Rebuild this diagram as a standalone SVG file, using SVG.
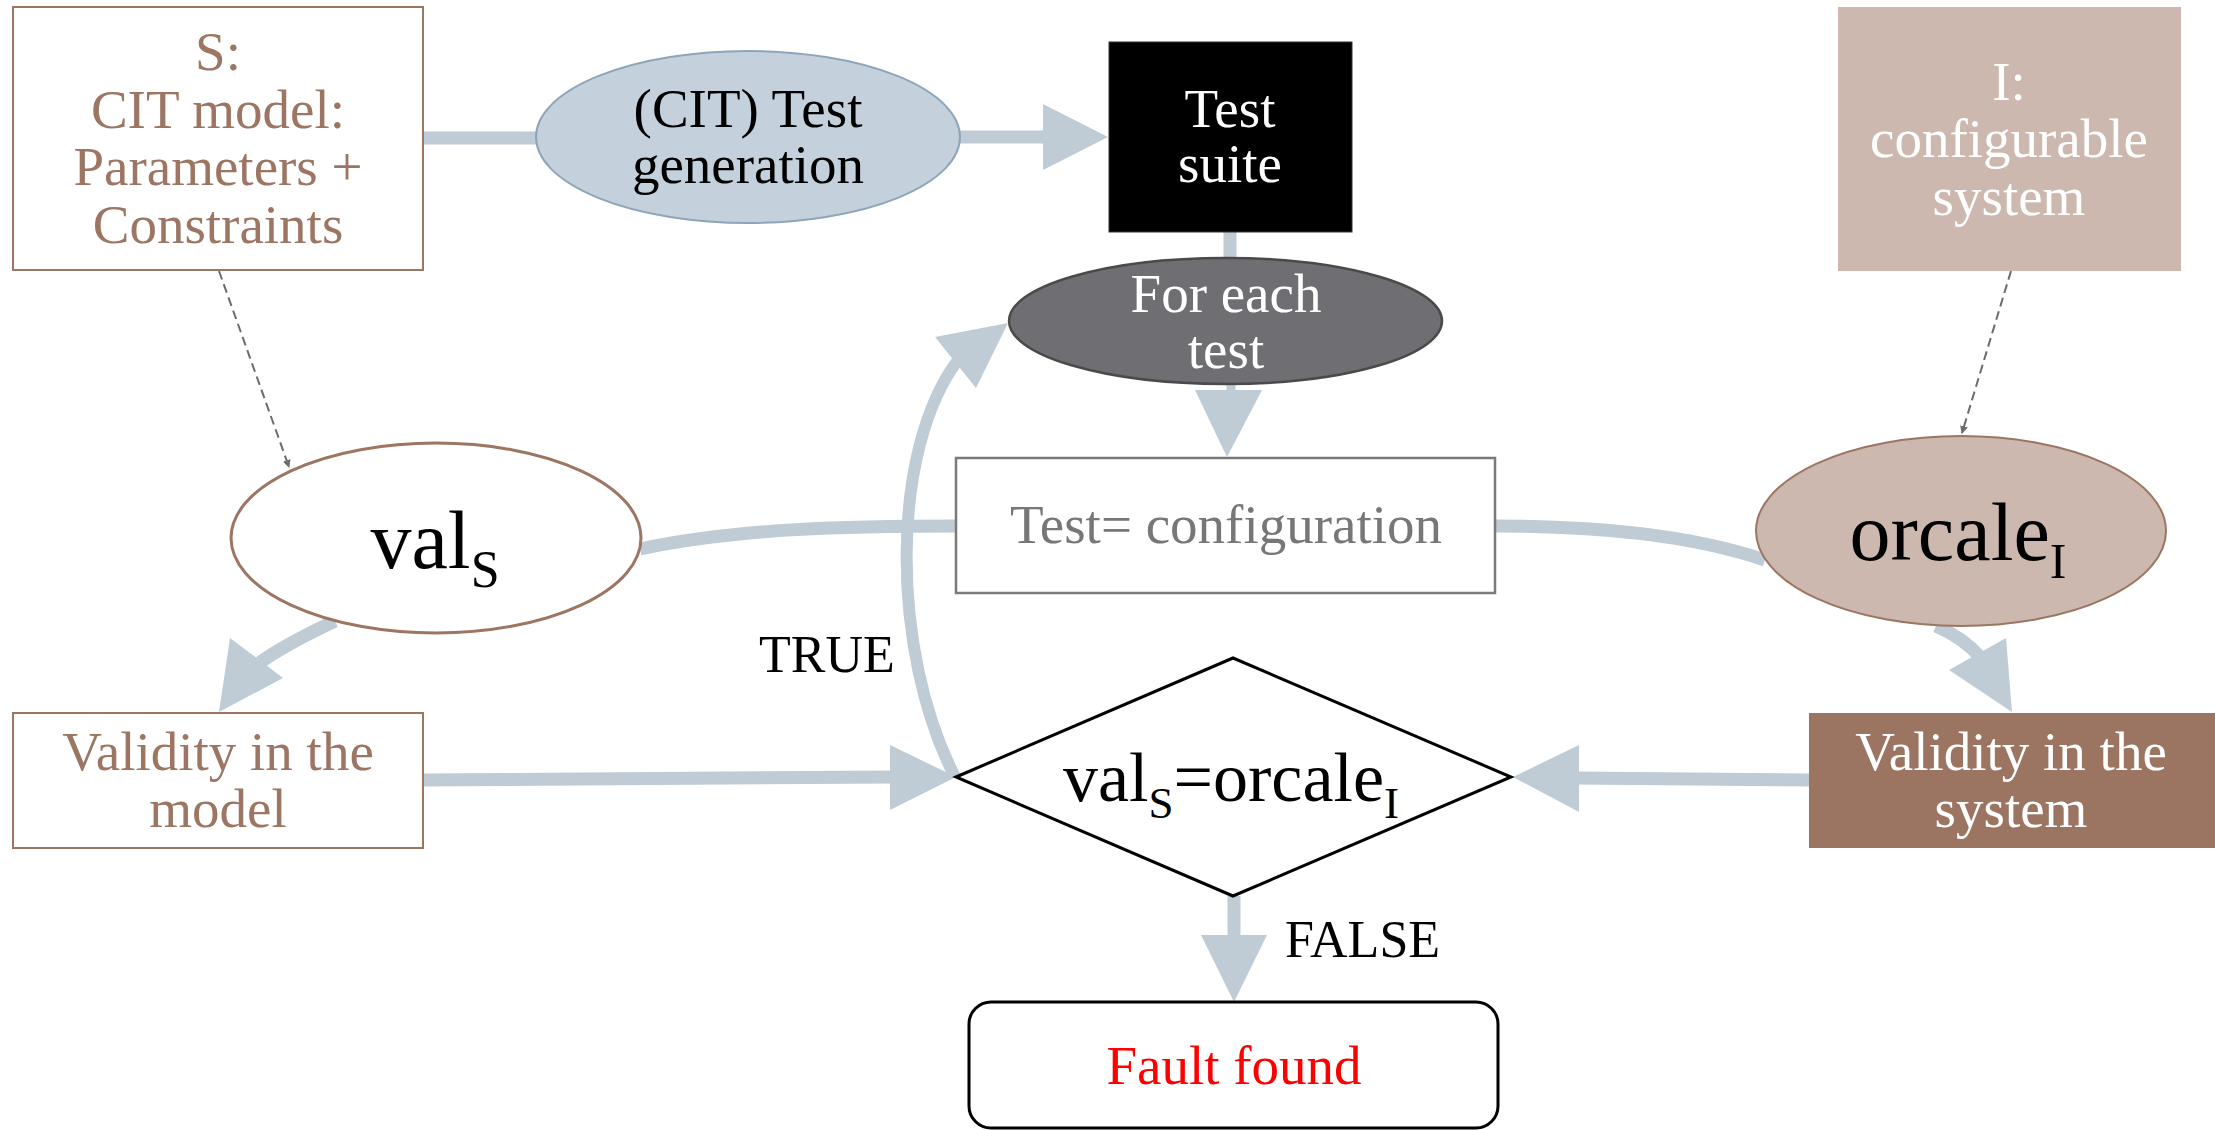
<svg xmlns="http://www.w3.org/2000/svg" width="2215" height="1130" viewBox="0 0 2215 1130">
<style>
text { font-family: "Liberation Serif", "Times New Roman", serif; font-size: 55px; text-anchor: middle; }
.conn { fill: none; stroke: #bfcbd5; stroke-width: 13; }
.head { fill: #bfcbd5; stroke: none; }
.dash { fill: none; stroke: #6b6b70; stroke-width: 2; stroke-dasharray: 9 5; }
.brown { fill: #9c7563; }
.white { fill: #ffffff; }
.black { fill: #000000; }
</style>
<defs>
<marker id="dhead" markerWidth="8" markerHeight="8" refX="7" refY="4" orient="auto" markerUnits="userSpaceOnUse" viewBox="0 0 8 8">
<path d="M0,0 L8,4 L0,8 Z" fill="#6b6b70"/>
</marker>
</defs>
<rect width="2215" height="1130" fill="#ffffff"/>

<g id="connectors">
<line class="conn" x1="422" y1="138" x2="540" y2="138"/>
<line class="conn" x1="958" y1="137" x2="1046" y2="137"/>
<polygon class="head" points="1043,104 1043,170 1108,137"/>
<line class="conn" x1="1230" y1="230" x2="1230" y2="262"/>
<line class="conn" x1="1231" y1="380" x2="1231" y2="393" style="stroke-width:9"/>
<polygon class="head" points="1195,390 1262,390 1227,457"/>
<path class="conn" d="M 640 549 C 740 528, 850 526, 958 526"/>
<path class="conn" d="M 1494 526 C 1600 526, 1690 535, 1765 560"/>
<path class="conn" d="M 335 621 Q 282 646 258 664"/>
<polygon class="head" points="230,638 283,678 219,712"/>
<path class="conn" d="M 1936 626 Q 1964 638 1981 658"/>
<polygon class="head" points="1949,670 2006,638 2012,712"/>
<line class="conn" x1="422" y1="780" x2="893" y2="777"/>
<polygon class="head" points="890,745 890,810 956,777"/>
<line class="conn" x1="1809" y1="780" x2="1576" y2="778"/>
<polygon class="head" points="1579,745 1579,812 1513,777"/>
<path class="conn" d="M 955 777 C 890 650, 890 450, 958 360" style="stroke-width:12"/>
<polygon class="head" points="935,337 976,388 1008,323"/>
<line class="conn" x1="1234" y1="896" x2="1234" y2="938"/>
<polygon class="head" points="1201,935 1267,935 1234,1002"/>
<line class="dash" x1="219" y1="271" x2="289" y2="467" marker-end="url(#dhead)"/>
<line class="dash" x1="2011" y1="271" x2="1962" y2="433" marker-end="url(#dhead)"/>
</g>

<g id="node-S">
<rect x="13" y="7" width="410" height="263" fill="#ffffff" stroke="#9c7563" stroke-width="2"/>
<text class="brown" x="218" y="70">S:</text>
<text class="brown" x="218" y="128">CIT model:</text>
<text class="brown" x="218" y="185">Parameters +</text>
<text class="brown" x="218" y="243">Constraints</text>
</g>

<g id="node-gen">
<ellipse cx="748" cy="137" rx="212" ry="86" fill="#c4d1dc" stroke="#8ea5b9" stroke-width="2"/>
<text class="black" x="748" y="127">(CIT) Test</text>
<text class="black" x="748" y="183">generation</text>
</g>

<g id="node-suite">
<rect x="1109" y="42" width="243" height="190" fill="#000000" stroke="#333333" stroke-width="1"/>
<text class="white" x="1230" y="127">Test</text>
<text class="white" x="1230" y="182">suite</text>
</g>

<g id="node-I">
<rect x="1838" y="7" width="343" height="264" fill="#cdb8af"/>
<text class="white" x="2009" y="100">I:</text>
<text class="white" x="2009" y="157">configurable</text>
<text class="white" x="2009" y="215">system</text>
</g>

<g id="node-foreach">
<ellipse cx="1225.5" cy="321" rx="216.5" ry="63" fill="#6e6e73" stroke="#4a4a4a" stroke-width="2.5"/>
<text class="white" x="1226" y="312">For each</text>
<text class="white" x="1226" y="368">test</text>
</g>

<g id="node-config">
<rect x="956" y="458" width="539" height="135" fill="#ffffff" stroke="#7a7a7a" stroke-width="2.5"/>
<text x="1226" y="543" fill="#777777">Test= configuration</text>
</g>

<g id="node-valS">
<ellipse cx="436" cy="538" rx="205" ry="95" fill="#ffffff" stroke="#9c7563" stroke-width="3"/>
<text class="black" x="435" y="568" style="font-size:82px">val<tspan dy="19" style="font-size:52px">S</tspan></text>
</g>

<g id="node-oracle">
<ellipse cx="1961" cy="531" rx="205" ry="95" fill="#cdb8af" stroke="#9c7563" stroke-width="2"/>
<text class="black" x="1958" y="560" style="font-size:82px">orcale<tspan dy="18" style="font-size:50px">I</tspan></text>
</g>

<g id="node-valid-model">
<rect x="13" y="713" width="410" height="135" fill="#ffffff" stroke="#9c7563" stroke-width="2"/>
<text class="brown" x="218" y="770">Validity in the</text>
<text class="brown" x="218" y="827">model</text>
</g>

<g id="node-valid-system">
<rect x="1809" y="713" width="406" height="135" fill="#9b7462"/>
<text class="white" x="2011" y="770">Validity in the</text>
<text class="white" x="2011" y="827">system</text>
</g>

<g id="node-decision">
<polygon points="956,777 1233,658 1511,777 1233,896" fill="#ffffff" stroke="#000000" stroke-width="3"/>
<text class="black" x="1231" y="801" style="font-size:70px">val<tspan dy="17" style="font-size:45px">S</tspan><tspan dy="-17">=orcale</tspan><tspan dy="17" style="font-size:45px">I</tspan></text>
</g>

<g id="node-fault">
<rect x="969" y="1002" width="529" height="126" rx="22" ry="22" fill="#ffffff" stroke="#000000" stroke-width="3"/>
<text x="1234" y="1084" fill="#ff0000">Fault found</text>
</g>

<g id="labels">
<text class="black" x="759" y="672" style="font-size:52px;text-anchor:start">TRUE</text>
<text class="black" x="1285" y="957" style="font-size:52px;text-anchor:start">FALSE</text>
</g>
</svg>
